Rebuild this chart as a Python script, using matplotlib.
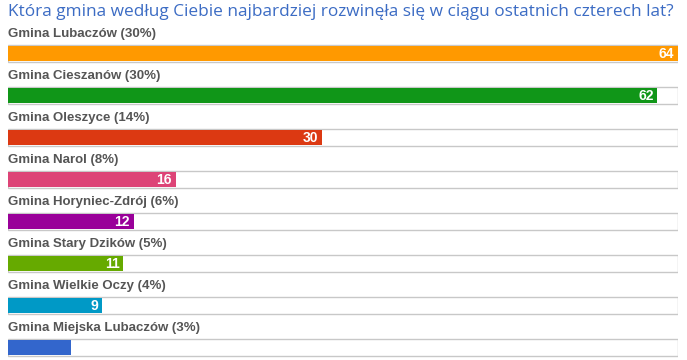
import matplotlib
matplotlib.use("Agg")
import matplotlib.pyplot as plt

title = "Która gmina według Ciebie najbardziej rozwinęła się w ciągu ostatnich czterech lat?"
labels = ["Gmina Lubaczów (30%)", "Gmina Cieszanów (30%)", "Gmina Oleszyce (14%)",
          "Gmina Narol (8%)", "Gmina Horyniec-Zdrój (6%)", "Gmina Stary Dzików (5%)",
          "Gmina Wielkie Oczy (4%)", "Gmina Miejska Lubaczów (3%)"]
values = [64, 62, 30, 16, 12, 11, 9, 6]
shown = [True, True, True, True, True, True, True, False]
colors = ["#ff9900", "#109618", "#dc3912", "#dd4477", "#990099", "#66aa00", "#0099c6", "#3366cc"]
vmax = 64

W, H = 687, 360
fig = plt.figure(figsize=(W / 100, H / 100), dpi=100)
left, right = 8, 678
ax = fig.add_axes([left / W, 0, (right - left) / W, 1])
ax.set_xlim(0, vmax)
pitch = 42.0
c0 = 53
ax.set_ylim((H - c0) / pitch, -c0 / pitch)
ax.axis("off")

ys = list(range(len(values)))
ax.barh(ys, [vmax] * len(values), height=17 / pitch, color="white",
        edgecolor="#c8c8c8", linewidth=1.0, zorder=1)
ax.barh(ys, values, height=15 / pitch, color=colors, zorder=2)

for y, lab, v, s in zip(ys, labels, values, shown):
    ax.text(0, y - 19.5 / pitch, lab, ha="left", va="center", fontsize=9.5,
            fontweight="bold", color="#555555", family="Liberation Sans")
    if s:
        ax.text(v - 0.35, y + 0.5 / pitch, str(v), ha="right", va="center", fontsize=10,
                fontweight="bold", color="white", family="Liberation Sans", zorder=3)

fig.text(left / W, 1 - 12 / H, title, ha="left", va="center", fontsize=12.4,
         color="#3c6cc4", family="Open Sans")

fig.savefig("out.png", dpi=100)
